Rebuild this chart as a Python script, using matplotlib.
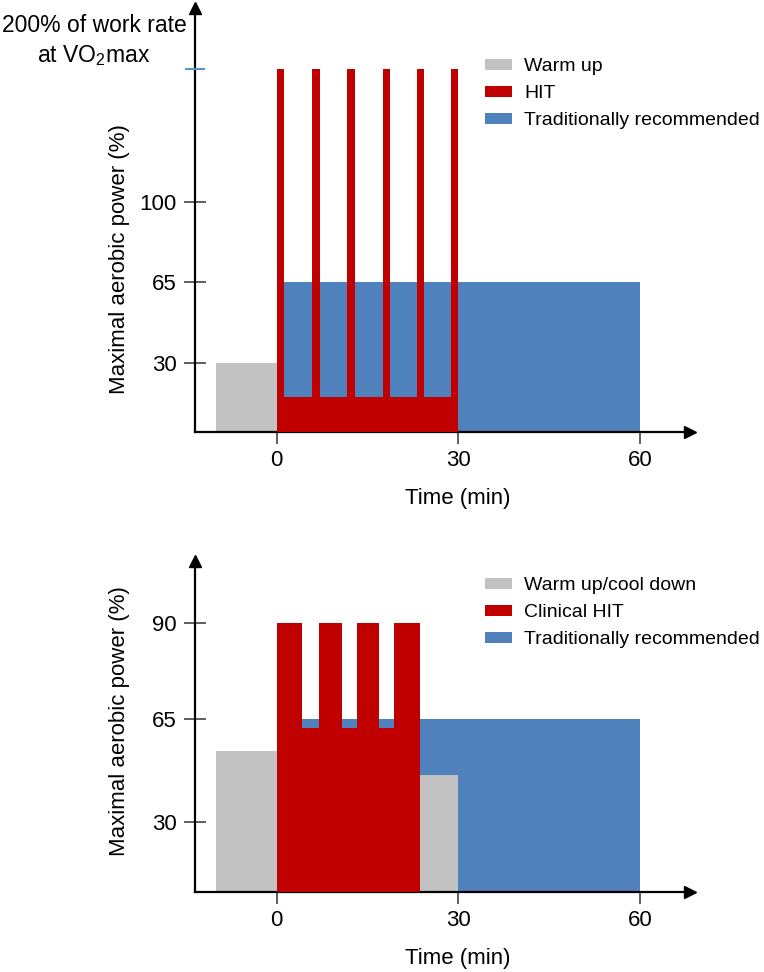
import numpy as np
import matplotlib
matplotlib.use('Agg')
import matplotlib.pyplot as plt
from matplotlib.patches import Patch

plt.rcParams['font.family'] = ['Liberation Sans', 'DejaVu Sans']
plt.rcParams['mathtext.fontset'] = 'custom'
plt.rcParams['mathtext.rm'] = 'Liberation Sans'

GREY = '#C2C2C2'
RED = '#C00000'
BLUE = '#4F81BD'
TICK_BLUE = '#5F8FCB'

# --- top panel: HIT (minutes, % of maximal aerobic power)
warm_start, warm_end, warm_level = -10, 0, 30
trad_start, trad_end, trad_level = 0, 60, 65
hit_base_start, hit_base_end, hit_base_level = 0, 30, 15
hit_spike_starts = [0, 5.9, 11.7, 17.5, 23.2, 28.8]
hit_spike_width = 1.2
hit_spike_level = 200

# --- bottom panel: clinical HIT
warm2_start, warm2_end, warm2_level = -10, 0, 54
cool_start, cool_end, cool_level = 23.6, 30, 46
trad2_start, trad2_end, trad2_level = 0, 60, 65
chit_base_start, chit_base_end, chit_base_level = 0, 23.6, 62
chit_peak_starts = [0, 7.0, 13.2, 19.4]
chit_peak_ends = [4.1, 10.8, 16.9, 23.6]
chit_peak_level = 90

x_ticks = [0, 30, 60]
top_yticks = [30, 65, 100]
top_yticklabels = ['30', '65', '100']
top_special_tick = 200
bot_yticks = [30, 65, 90]
bot_yticklabels = ['30', '65', '90']

top_legend = ['Warm up', 'HIT', 'Traditionally recommended']
bot_legend = ['Warm up/cool down', 'Clinical HIT', 'Traditionally recommended']

# the y axes in the figure are schematic (not linear), map them piecewise
top_y_data = [-100, 0, 100, 200, 400]
top_y_pos = [-100, 0, 100, 157.7, 273.1]
bot_y_data = [-100, 0, 30, 65, 90, 150]
bot_y_pos = [-233, 0, 69.7, 173, 269.3, 500.3]


def piecewise(data, pos):
    fwd = lambda v: np.interp(v, data, pos)
    inv = lambda p: np.interp(p, pos, data)
    return fwd, inv


W, H = 764, 972
fig = plt.figure(figsize=(W / 100, H / 100), dpi=100)

ax1 = fig.add_axes([195 / W, 1 - 432 / H, 495 / W, 424 / H])
ax2 = fig.add_axes([195 / W, 1 - 892 / H, 495 / W, 331 / H])


def bar(ax, start, end, level, color, z):
    ax.bar(start, level, width=np.subtract(end, start), align='edge',
           color=color, linewidth=0, zorder=z)


# top
bar(ax1, warm_start, warm_end, warm_level, GREY, 2)
bar(ax1, trad_start, trad_end, trad_level, BLUE, 1)
bar(ax1, hit_base_start, hit_base_end, hit_base_level, RED, 3)
ax1.bar(hit_spike_starts, hit_spike_level, width=hit_spike_width, align='edge',
        color=RED, linewidth=0, zorder=3)
ax1.set_yscale('function', functions=piecewise(top_y_data, top_y_pos))
ax1.set_ylim(0, 246)

# bottom
bar(ax2, warm2_start, warm2_end, warm2_level, GREY, 2)
bar(ax2, trad2_start, trad2_end, trad2_level, BLUE, 1)
bar(ax2, cool_start, cool_end, cool_level, GREY, 2)
bar(ax2, chit_base_start, chit_base_end, chit_base_level, RED, 3)
bar(ax2, chit_peak_starts, chit_peak_ends, chit_peak_level, RED, 3)
ax2.set_yscale('function', functions=piecewise(bot_y_data, bot_y_pos))
ax2.set_ylim(0, 106)

for ax in (ax1, ax2):
    ax.set_xlim(-13.5, 68.3)
    ax.spines[['top', 'right']].set_visible(False)
    for s in ('left', 'bottom'):
        ax.spines[s].set_linewidth(1.6)
    ax.set_xticks(x_ticks)
    ax.tick_params(axis='x', direction='out', length=8.6, width=1.1,
                   pad=4.4, labelsize=16, color='#333333')
    ax.tick_params(axis='y', direction='inout', length=16, width=1.1,
                   pad=5, labelsize=16, color='#333333')
    ax.plot(1, 0, '>', color='k', ms=9, transform=ax.transAxes, clip_on=False)
    ax.plot(0, 1, '^', color='k', ms=9, transform=ax.transAxes, clip_on=False)

ax1.set_yticks(top_yticks, top_yticklabels)
ax2.set_yticks(bot_yticks, bot_yticklabels)
# light blue tick for the 200 % level, across the axis
ax1.plot(0, top_special_tick, marker='_', ms=15, mew=1.5, color=TICK_BLUE,
         transform=ax1.get_yaxis_transform(), clip_on=False, zorder=5)

colors = [GREY, RED, BLUE]
for labels, top in ((top_legend, 1 - 58 / H), (bot_legend, 1 - 577 / H)):
    handles = [Patch(facecolor=c, label=l) for c, l in zip(colors, labels)]
    fig.legend(handles=handles, loc='upper left', bbox_to_anchor=(485 / W, top),
               bbox_transform=fig.transFigure, frameon=False, fontsize=14,
               handlelength=1.4, handleheight=0.5, handletextpad=0.6,
               labelspacing=0.52, borderpad=0, borderaxespad=0)

fig.text(94 / W, 1 - 41 / H, '200% of work rate\nat VO$_\\mathregular{2}$max',
         ha='center', va='center', fontsize=16.5, linespacing=1.3)
fig.text(119 / W, 1 - 259 / H, 'Maximal aerobic power (%)', rotation=90,
         ha='center', va='center', fontsize=16)
fig.text(119 / W, 1 - 721 / H, 'Maximal aerobic power (%)', rotation=90,
         ha='center', va='center', fontsize=16)
fig.text(458 / W, 1 - 498 / H, 'Time (min)', ha='center', va='center', fontsize=16)
fig.text(458 / W, 1 - 958 / H, 'Time (min)', ha='center', va='center', fontsize=16)

fig.savefig('out.png', dpi=100)
